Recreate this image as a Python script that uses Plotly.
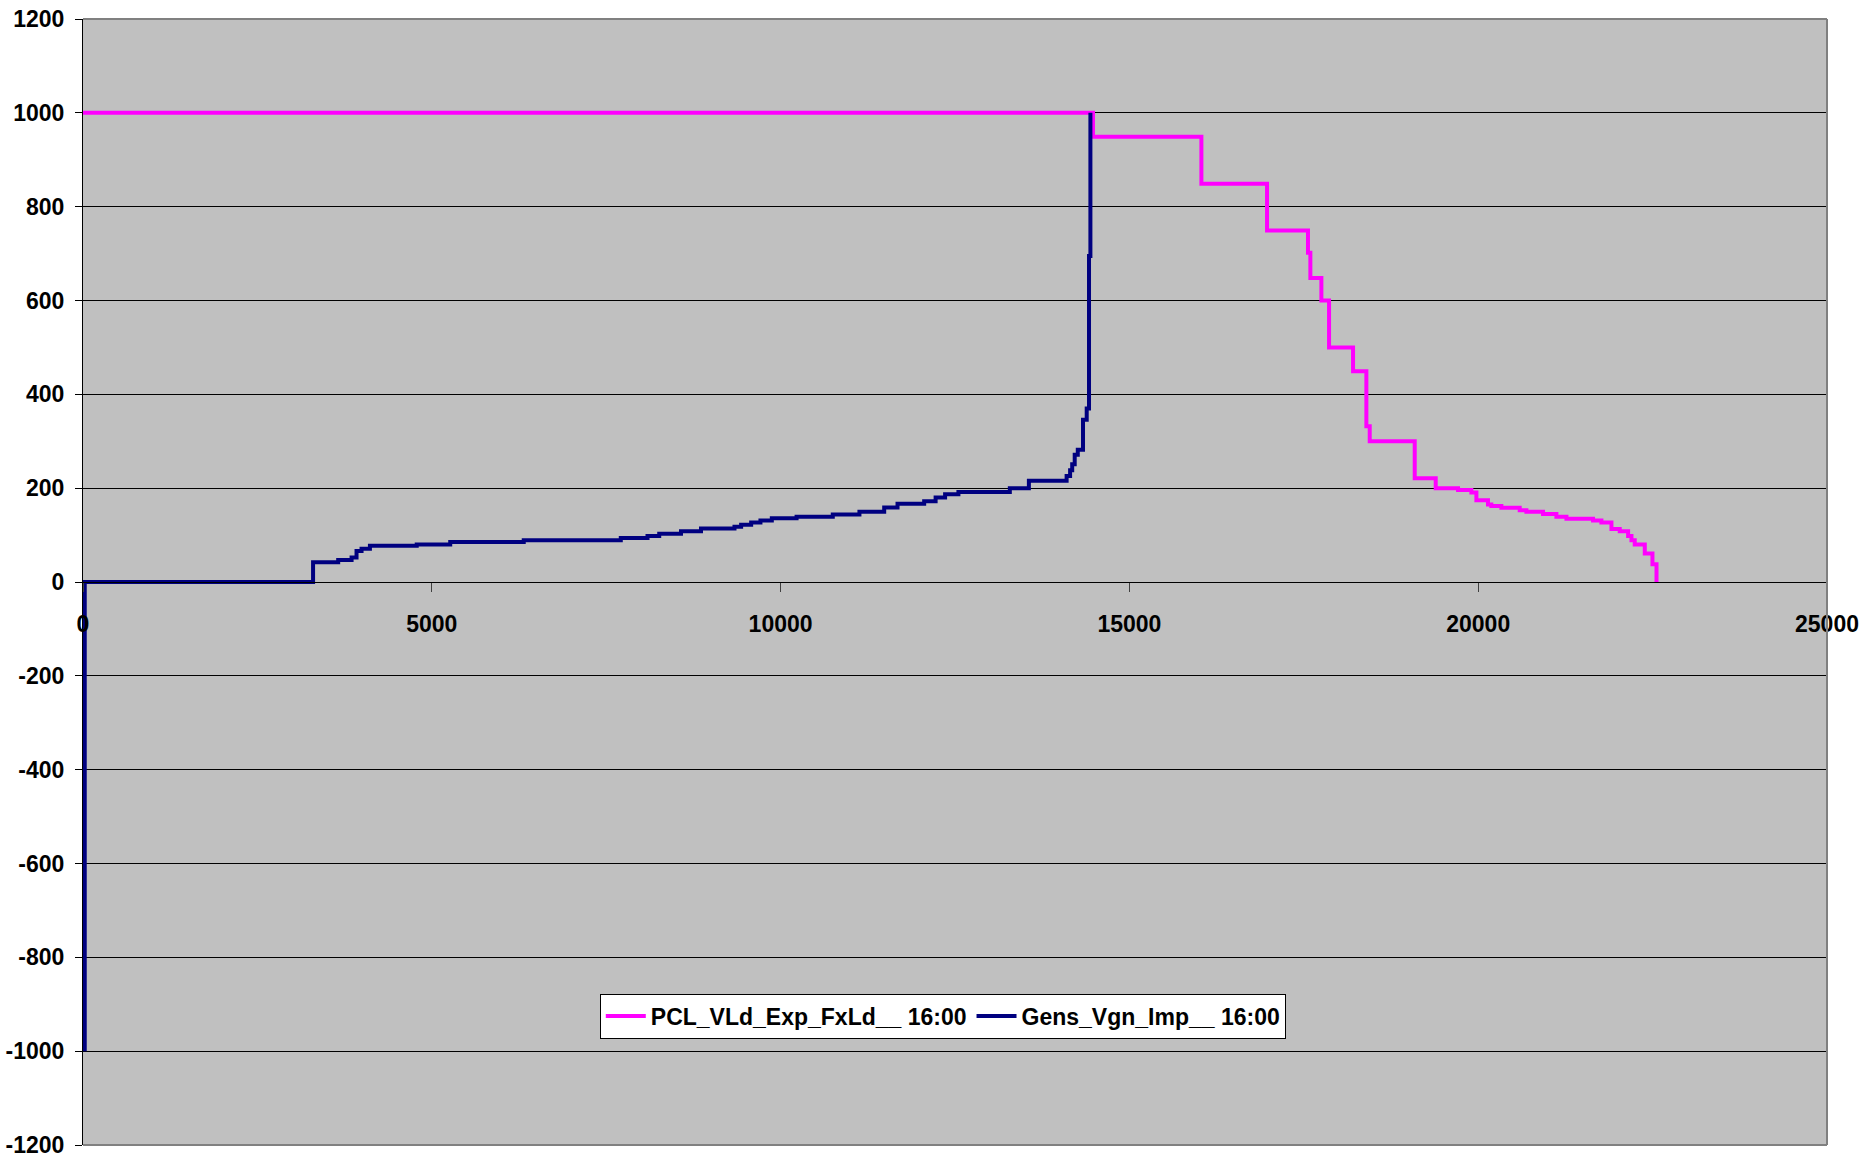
import plotly.graph_objects as go

# ---- data ----
pcl_name = "PCL_VLd_Exp_FxLd__ 16:00"
pcl_x = [0, 14478, 16032, 16973, 17560, 17594, 17752, 17862, 18206, 18397, 18445,
         19090, 19391, 19711, 19902, 19974, 20140, 20188, 20332, 20595, 20691,
         20929, 21121, 21265, 21646, 21766, 21910, 22029, 22149, 22197, 22244,
         22388, 22498, 22556]
pcl_y = [1000, 949, 849, 749, 702, 648, 600, 500, 449, 332, 300,
         221, 200, 196, 191, 174, 165, 162, 158, 153, 150,
         145, 139, 135, 131, 127, 113, 108, 98, 89, 80,
         61, 38, 0]

gens_name = "Gens_Vgn_Imp__ 16:00"
gens_x = [25, 25, 3298, 3658, 3850, 3921, 3993, 4113, 4784, 5264, 6318, 7709,
          8092, 8260, 8572, 8859, 9339, 9434, 9578, 9711, 9874, 10229, 10748,
          11130, 11485, 11676, 12058, 12222, 12358, 12549, 13286, 13559, 14100,
          14150, 14180, 14216, 14260, 14335, 14388, 14421, 14441]
gens_y = [-1000, 0, 42, 47, 52, 66, 71, 77, 80, 85, 89, 94,
          98, 103, 108, 114, 118, 122, 127, 131, 136, 139, 144,
          150, 159, 167, 172, 180, 187, 192, 200, 216, 226,
          238, 251, 271, 282, 346, 370, 695, 1000]

x_ticks = [0, 5000, 10000, 15000, 20000, 25000]
y_ticks = list(range(-1200, 1201, 200))

FONT = "Liberation Sans, Arial, sans-serif"

fig = go.Figure()
fig.add_trace(go.Scatter(x=pcl_x, y=pcl_y, name=pcl_name, mode="lines",
                         line=dict(color="#FF00FF", width=4, shape="hv")))
fig.add_trace(go.Scatter(x=gens_x, y=gens_y, name=gens_name, mode="lines",
                         line=dict(color="#000080", width=4, shape="hv")))

fig.update_layout(
    width=1865, height=1160,
    margin=dict(l=83, r=38, t=19, b=15, autoexpand=False),
    paper_bgcolor="white",
    plot_bgcolor="#C0C0C0",
    font=dict(family=FONT, size=23, color="black"),
    showlegend=True,
    legend=dict(
        orientation="h",
        x=0.493, xanchor="center",
        y=0.1345, yanchor="top",
        bgcolor="white", bordercolor="black", borderwidth=1,
        font=dict(family=FONT, size=23, color="black", weight="bold"),
        itemwidth=40,
    ),
    xaxis=dict(
        range=[0, 25000],
        tickvals=x_ticks,
        ticktext=[str(v) for v in x_ticks],
        anchor="free", position=0.5,
        automargin=False,
        showgrid=False, zeroline=False,
        showline=True, linecolor="black", linewidth=1,
        ticks="outside", ticklen=9, tickcolor="#404040", tickwidth=1,
        tickfont=dict(family=FONT, size=23, color="black", weight="bold"),
        ticklabelstandoff=12,
    ),
    yaxis=dict(
        range=[-1200, 1200],
        tickvals=y_ticks,
        ticktext=[str(v) for v in y_ticks],
        automargin=False,
        showgrid=True, gridcolor="black", gridwidth=1,
        zeroline=False,
        showline=True, linecolor="black", linewidth=1,
        ticks="outside", ticklen=7, tickcolor="black", tickwidth=1,
        tickfont=dict(family=FONT, size=23, color="black", weight="bold"),
        ticklabelstandoff=6,
    ),
    shapes=[
        dict(type="line", xref="paper", yref="paper", x0=0, x1=1, y0=1, y1=1,
             line=dict(color="#808080", width=2), layer="above"),
        dict(type="line", xref="paper", yref="paper", x0=1, x1=1, y0=0, y1=1,
             line=dict(color="#808080", width=2), layer="above"),
        dict(type="line", xref="paper", yref="paper", x0=0, x1=1, y0=0, y1=0,
             line=dict(color="#808080", width=2), layer="above"),
    ],
)

fig.write_html("out.html")
